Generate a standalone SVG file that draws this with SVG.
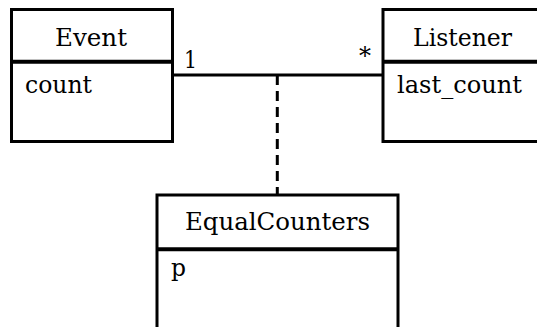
<svg xmlns="http://www.w3.org/2000/svg" width="537" height="327" viewBox="0 0 537 327">
<style>
.box{fill:#fff;stroke:#000;stroke-width:3}
.div{stroke:#000;stroke-width:4}
.t{font-family:"DejaVu Serif","Noto Serif","Liberation Serif",Tinos,FreeSerif,serif;font-size:24px;fill:#000}
.h{text-anchor:middle}
</style>
<g id="connectors">
<line x1="172" y1="75" x2="383" y2="75" stroke="#000" stroke-width="3"/>
<line x1="277.3" y1="75" x2="277.3" y2="195" stroke="#000" stroke-width="3" stroke-dasharray="10,6"/>
<text class="t" x="184" y="68" textLength="13" lengthAdjust="spacingAndGlyphs">1</text>
<text class="t" x="359" y="64" textLength="12" lengthAdjust="spacingAndGlyphs">*</text>
</g>
<g id="event">
<rect class="box" x="11.5" y="9.5" width="161" height="132"/>
<line class="div" x1="11.5" y1="61.7" x2="172.5" y2="61.7"/>
<text class="t h" x="91" y="46" textLength="72" lengthAdjust="spacingAndGlyphs">Event</text>
<text class="t" x="25" y="93" textLength="67" lengthAdjust="spacingAndGlyphs">count</text>
</g>
<g id="listener">
<rect class="box" x="383" y="9.5" width="162" height="132"/>
<line class="div" x1="383" y1="61.7" x2="545" y2="61.7"/>
<text class="t h" x="462.5" y="46" textLength="99" lengthAdjust="spacingAndGlyphs">Listener</text>
<text class="t" x="397" y="93" textLength="125" lengthAdjust="spacingAndGlyphs">last_count</text>
</g>
<g id="equalcounters">
<rect class="box" x="157" y="195" width="241" height="150"/>
<line class="div" x1="157" y1="249.3" x2="398" y2="249.3"/>
<text class="t h" x="277.5" y="230" textLength="185" lengthAdjust="spacingAndGlyphs">EqualCounters</text>
<text class="t" x="171" y="276" textLength="15" lengthAdjust="spacingAndGlyphs">p</text>
</g>
</svg>
